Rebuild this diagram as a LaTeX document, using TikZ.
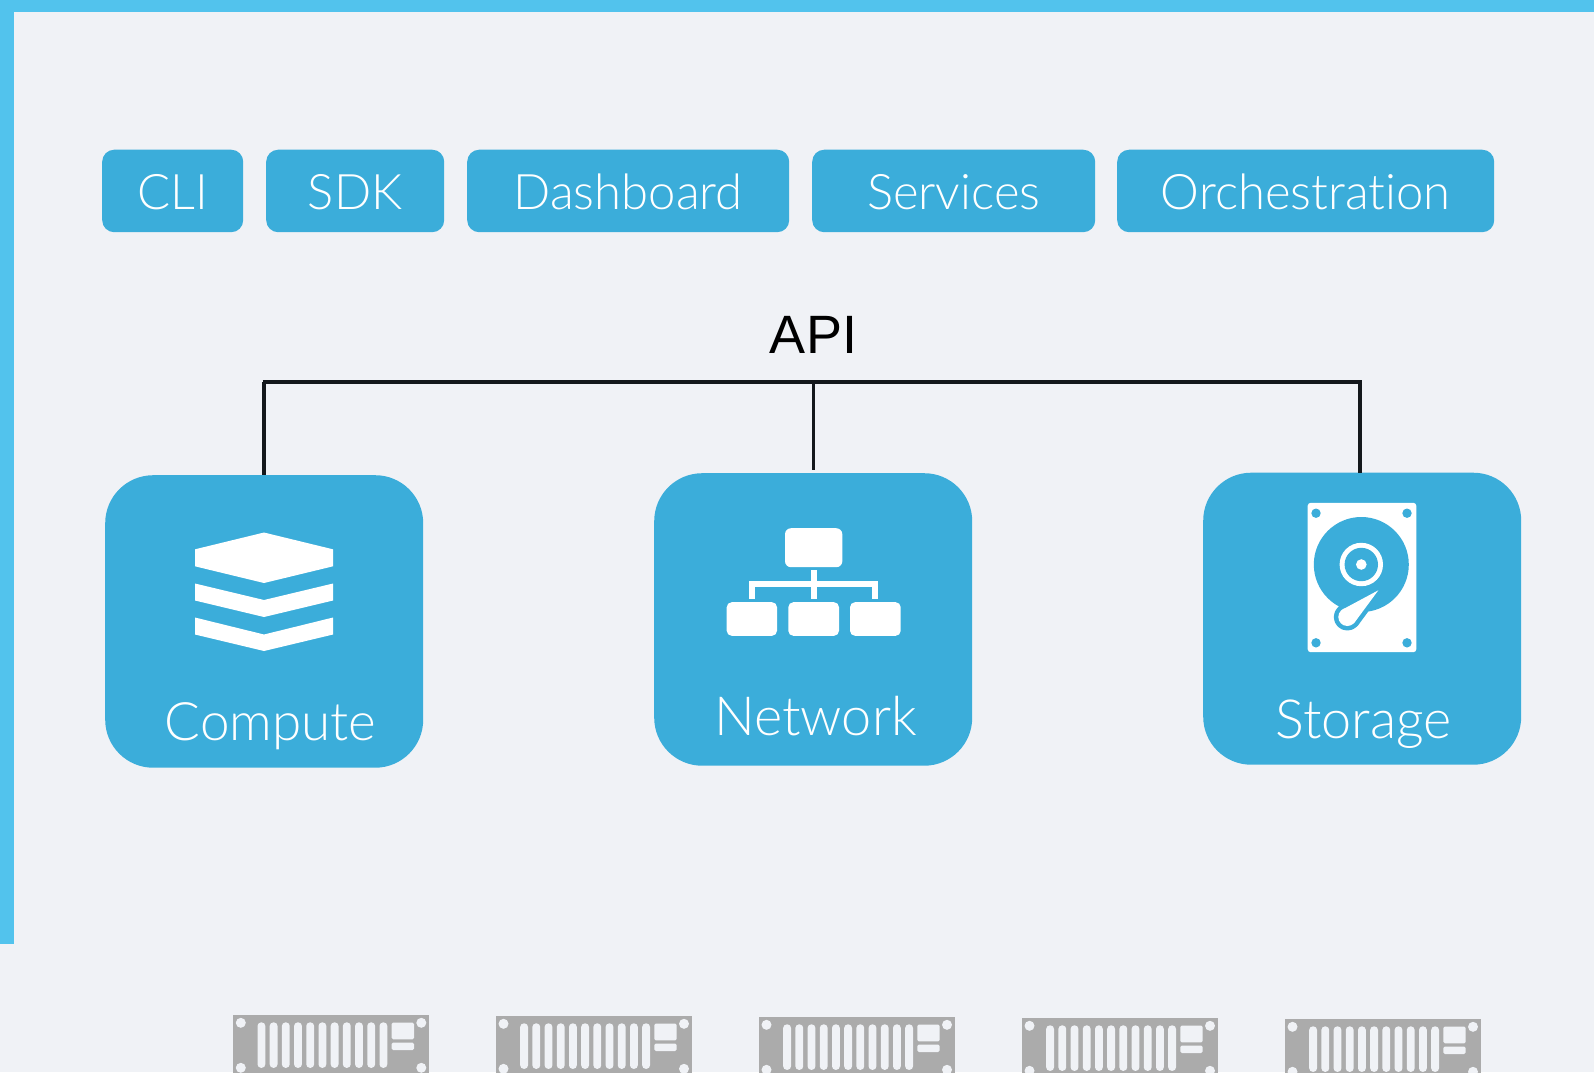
\documentclass[tikz,border=0pt]{standalone}
\usepackage{fontspec}
\setmainfont[Ligatures=NoCommon,Contextuals=NoAlternate]{Lato Light}
\newfontfamily\apifont{Liberation Sans}
\definecolor{pagebg}{HTML}{F0F2F6}
\definecolor{barblue}{HTML}{52C3ED}
\definecolor{boxblue}{HTML}{3BADDA}
\definecolor{rackgrey}{HTML}{ABABAB}
\definecolor{busline}{HTML}{14181C}
\tikzset{
  toolbox/.style={fill=boxblue,rounded corners=12pt,inner sep=0pt,text=white,font=\fontsize{49}{49}\selectfont,anchor=north west,text height=37.5pt,text depth=0pt},
  svcbox/.style={fill=boxblue,rounded corners=48pt,inner sep=0pt,minimum width=318pt,anchor=north west},
  svclabel/.style={text=white,font=\fontsize{54}{54}\selectfont,inner sep=0pt},
  bus/.style={draw=busline,line width=3.8pt},
  hole/.style={fill=pagebg},
  rack/.pic={
    \fill[rackgrey] (0,0) rectangle (195.5,60);
    \foreach \p in {(7.5,7.5),(188,7.5),(7.5,52.5),(188,52.5)} \fill[hole] \p circle (5);
    \foreach \i in {0,...,10} \fill[hole,rounded corners=3.5pt] ({24.2+12.2*\i},7.1) rectangle ({32+12.2*\i},52.5);
    \fill[hole,rounded corners=1.5pt] (158.3,7.3) rectangle (180.7,24);
    \fill[hole,rounded corners=1.5pt] (158.3,27.3) rectangle (180.7,34.7);
  }
}
\begin{document}
\begin{tikzpicture}[x=1pt,y=-1pt]
\useasboundingbox (0,0) rectangle (1594,1072);
\clip (0,0) rectangle (1594,1072);
\fill[pagebg] (0,0) rectangle (1594,1072);
\fill[barblue] (0,0) rectangle (1594,12);
\fill[barblue] (0,0) rectangle (14,943.5);

% tool boxes
\node[toolbox,minimum width=141pt,minimum height=82.5pt] (cli) at (102,149.5) {CLI};
\node[toolbox,minimum width=178pt,minimum height=82.5pt] (sdk) at (266,149.5) {SDK};
\node[toolbox,minimum width=322pt,minimum height=82.5pt] (dash) at (467,149.5) {Dashboard};
\node[toolbox,minimum width=283pt,minimum height=82.5pt] (serv) at (812,149.5) {Services};
\node[toolbox,minimum width=377pt,minimum height=82.5pt] (orch) at (1117,149.5) {Orchestration};

% API
\node[font=\apifont\fontsize{54}{54}\selectfont,inner sep=0pt] (api) at (813.5,335) {API};

% service boxes
\node[svcbox,minimum height=292.5pt] (compute) at (105,475) {};
\node[svcbox,minimum height=292.5pt] (network) at (654,473) {};
\node[svcbox,minimum height=292pt] (storage) at (1203,472.5) {};
\node[svclabel,font=\fontsize{53}{53}\selectfont] (computelabel) at (270.5,726) {Compute};
\node[svclabel] (networklabel) at (815.5,716) {Network};
\node[svclabel] (storagelabel) at (1363.5,724) {Storage};

% connectors
\coordinate (busl) at (262.5,382);
\coordinate (busm) at (813.5,382);
\coordinate (busr) at (1361.5,382);
\coordinate (ntop) at (813.5,470);
\coordinate (ctop) at (264,475);
\coordinate (stop) at (1360,473);
\draw[bus] (busl) -- (busr);
\draw[bus] (264,382) -- (ctop);
\draw[bus] (busm) -- (ntop);
\draw[bus] (1360,382) -- (stop);

% compute icon
\fill[white] (195,549.3) -- (264,532.5) -- (333,549.3) -- (333,566.3) -- (264,583) -- (195,566.3) -- cycle;
\fill[white] (195,583.5) -- (264,600) -- (333,583.5) -- (333,600.5) -- (264,617) -- (195,600.5) -- cycle;
\fill[white] (195,617.5) -- (264,634.5) -- (333,617.5) -- (333,634.5) -- (264,651) -- (195,634.5) -- cycle;

% network icon
\fill[white,rounded corners=6pt] (785,528.2) rectangle (842.3,567.2);
\fill[white,rounded corners=5pt] (726.7,602.2) rectangle (777,635.8);
\fill[white,rounded corners=5pt] (788.3,602.2) rectangle (839,635.8);
\fill[white,rounded corners=5pt] (850,602.2) rectangle (900.7,635.8);
\fill[white] (811,569.8) rectangle (816.7,598.8);
\fill[white] (749,580.8) rectangle (877.7,586.5);
\fill[white] (749,580.8) rectangle (754.7,598.8);
\fill[white] (872,580.8) rectangle (877.7,598.8);

% storage icon
\fill[white,rounded corners=3pt] (1307.7,502.8) rectangle (1416.3,652.2);
\foreach \p in {(1316,513.2),(1407,513.2),(1316,642.8),(1407,642.8)} \fill[boxblue] \p circle (4.7);
\fill[boxblue] (1361.3,564.5) circle (47.5);
\fill[white] (1361.3,564.5) circle (21.7);
\fill[boxblue] (1361.3,564.5) circle (16.7);
\fill[white] (1361.3,564.5) circle (5.3);
\draw[boxblue,fill=boxblue,line width=9pt,line join=round] (1347.3,617) circle (9);
\draw[boxblue,fill=boxblue,line width=9pt,line join=round] (1354.3,622.8) -- (1378.3,590.3) -- (1341.2,610.2) -- cycle;
\fill[white] (1347.3,617) circle (9);
\fill[white] (1354.3,622.8) -- (1378.3,590.3) -- (1341.2,610.2) -- cycle;

% racks
\pic at (233.3,1015.3) {rack};
\pic at (496,1016.3) {rack};
\pic at (759,1017.3) {rack};
\pic at (1022,1018.3) {rack};
\pic at (1285,1019.3) {rack};
\end{tikzpicture}
\end{document}
